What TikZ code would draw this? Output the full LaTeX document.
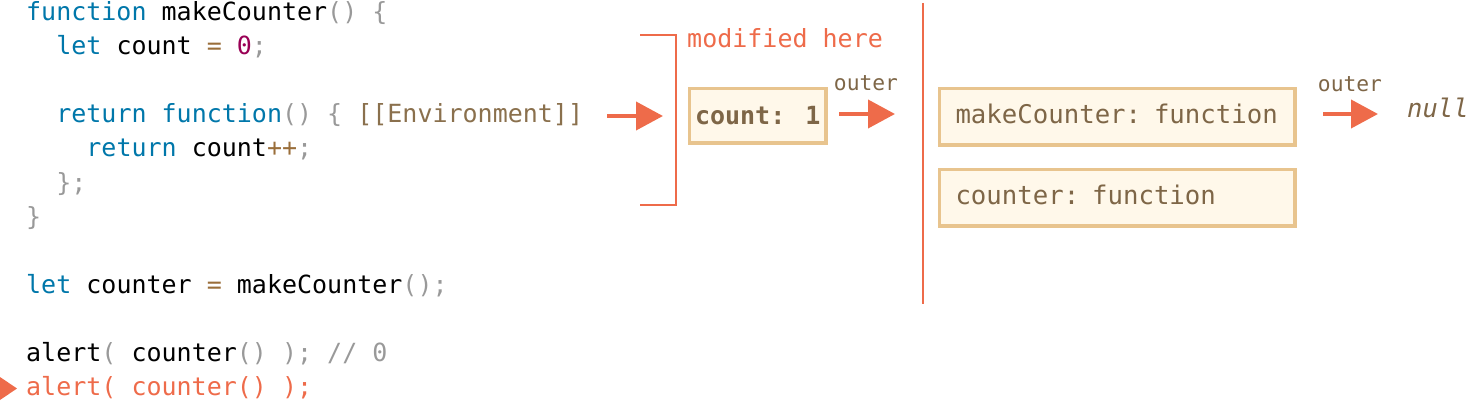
\documentclass[tikz,border=0pt]{standalone}
\usepackage{fontspec}
\newfontfamily\codefont{DejaVu Sans Mono}[WordSpace={1,0,0}]
\usetikzlibrary{arrows.meta}
\definecolor{kwc}{HTML}{0077AA}
\definecolor{puc}{HTML}{999999}
\definecolor{opc}{HTML}{9A6E3A}
\definecolor{nmc}{HTML}{990055}
\definecolor{envc}{HTML}{8A704D}
\definecolor{redc}{HTML}{EE6B4A}
\definecolor{boxfill}{HTML}{FFF8EA}
\definecolor{boxline}{HTML}{E8C48E}
\definecolor{boxtext}{HTML}{7E6647}
\newcommand\cKw[1]{\textcolor{kwc}{#1}}
\newcommand\cPu[1]{\textcolor{puc}{#1}}
\newcommand\cOp[1]{\textcolor{opc}{#1}}
\newcommand\cNm[1]{\textcolor{nmc}{#1}}
\newcommand\cEnv[1]{\textcolor{envc}{#1}}
\begin{document}
\begin{tikzpicture}[x=1pt,y=-1pt,
  code/.style={anchor=base west, inner sep=0pt, text=black,
    font=\codefont\fontsize{25}{30}\selectfont},
  lbl/.style={anchor=base, inner sep=0pt, text=boxtext,
    font=\codefont\fontsize{21.3}{25}\selectfont},
  arrowc/.style={draw=redc, line width=4pt, -{Triangle[length=27pt,width=28pt]}},
  redline/.style={draw=redc, line width=2pt},
  envbox/.style={draw=boxline, fill=boxfill, line width=3.5pt, text=boxtext,
    font=\codefont\fontsize{25.7}{30}\selectfont, text height=17pt, text depth=3pt,
    anchor=north west, inner ysep=0pt},
  widebox/.style={envbox, minimum height=56.5pt, text width=323.5pt, inner xsep=16pt, align=left}
]
\useasboundingbox (0,0) rectangle (1467,401);

% code
\node[code] (l1) at (26,21) {\cKw{function} makeCounter\cPu{()} \cPu{\{}};
\node[code] (l2) at (56.1,55) {\cKw{let} count \cOp{=} \cNm{0}\cPu{;}};
\node[code] (l4) at (56.1,123) {\cKw{return} \cKw{function}\cPu{()} \cPu{\{} \cEnv{[[Environment]]}};
\node[code] (l5) at (86.2,157) {\cKw{return} count\cOp{++}\cPu{;}};
\node[code] (l6) at (56.1,191) {\cPu{\};}};
\node[code] (l7) at (26,225) {\cPu{\}}};
\node[code] (l9) at (26,293) {\cKw{let} counter \cOp{=} makeCounter\cPu{();}};
\node[code] (l11) at (26,361) {alert\cPu{(} counter\cPu{()} \cPu{);} \cPu{// 0}};
\node[code, text=redc] (l12) at (26,395) {alert( counter() );};
\fill[redc] (0,377) -- (17,388.5) -- (0,400) -- cycle;

% arrow from code to environment
\coordinate (a1s) at (607,116);
\coordinate (a1e) at (663,116);
\draw[arrowc] (a1s) -- (a1e);

% bracket
\coordinate (b1) at (640,35);
\coordinate (b2) at (676,35);
\coordinate (b3) at (676,205);
\coordinate (b4) at (640,205);
\draw[redline] (b1) -- (b2) -- (b3) -- (b4);
\node[code, text=redc] (mod) at (687,48) {modified here};

% count box
\node[envbox, minimum width=136.5pt, minimum height=54.5pt, text depth=0pt,
  font=\codefont\bfseries\fontsize{25}{30}\selectfont] (cbox) at (687.75,86.75) {count: 1};
\coordinate (a2s) at (839,114);
\coordinate (a2e) at (895,114);
\draw[arrowc] (a2s) -- (a2e);
\node[lbl] (out1) at (866,91) {outer};

% separator
\coordinate (v1) at (923,3);
\coordinate (v2) at (923,304);
\draw[redline] (v1) -- (v2);

% global environment
\node[widebox] (mcbox) at (937.75,86.75) {makeCounter: function};
\node[widebox] (ctrbox) at (937.75,167.75) {counter: function};
\coordinate (a3s) at (1323,114);
\coordinate (a3e) at (1378,114);
\draw[arrowc] (a3s) -- (a3e);
\node[lbl] (out2) at (1350,92) {outer};
\node[code, text=boxtext, font=\codefont\itshape\fontsize{25.5}{30}\selectfont] (nullt) at (1407,118) {null};
\end{tikzpicture}
\end{document}
